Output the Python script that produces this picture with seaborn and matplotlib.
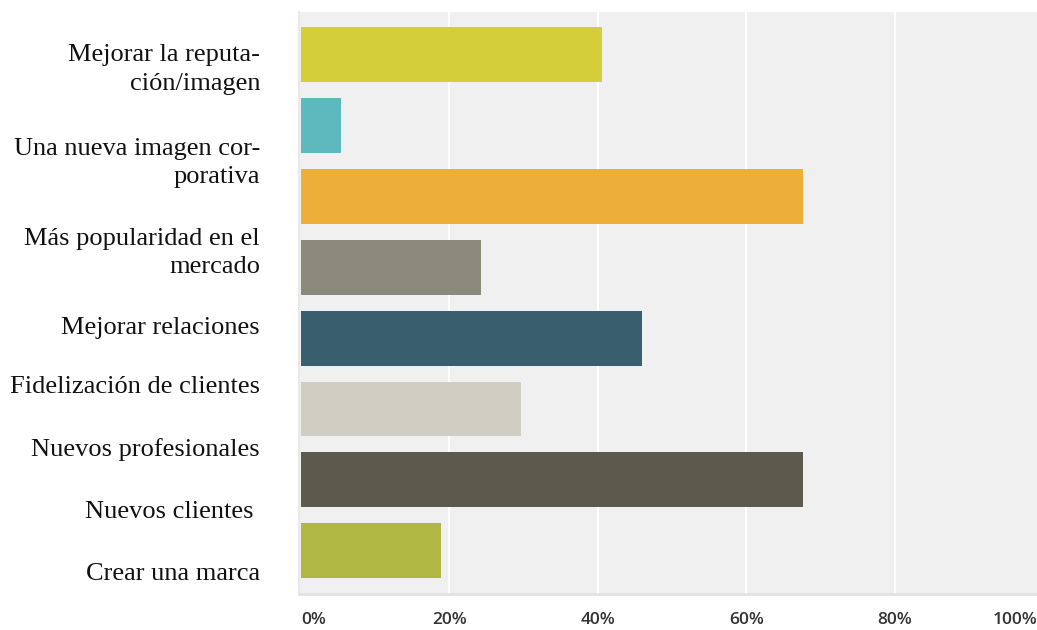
import matplotlib
matplotlib.use("Agg")
import matplotlib.pyplot as plt
import matplotlib.transforms as mtransforms
import seaborn as sns
import pandas as pd

# datos de la encuesta (porcentaje de respuestas)
categorias = [
    "Mejorar la reputa-\nción/imagen",
    "Una nueva imagen cor-\nporativa",
    "Más popularidad en el\nmercado",
    "Mejorar relaciones",
    "Fidelización de clientes",
    "Nuevos profesionales",
    "Nuevos clientes ",
    "Crear una marca",
]
porcentajes = [40.5, 5.4, 67.6, 24.3, 45.9, 29.7, 67.6, 18.9]
colores = ["#d4ce3a", "#5db9bd", "#eeaf3a", "#8b8a7b",
           "#395e6d", "#d0cdc2", "#5b5a4c", "#b0b843"]
ticks_x = [0, 20, 40, 60, 80, 100]
etiquetas_x = ["0%", "20%", "40%", "60%", "80%", "100%"]

# las etiquetas del eje y no quedan centradas en las barras
pos_etiquetas = [0.13, 1.45, 2.72, 3.82, 4.66, 5.54, 6.42, 7.29]

df = pd.DataFrame({"categoria": [str(i) for i in range(len(categorias))],
                   "pct": porcentajes})

sns.set_style("white")
fig = plt.figure(figsize=(10.37, 6.30), dpi=100)
W, H = 1037, 630
x0, x100 = 301, 1043
ax = fig.add_axes([299 / W, 1 - 594 / H, (x100 + 2 - 299) / W, (594 - 12) / H])
ax.set_facecolor("#f0f0f0")

sns.barplot(data=df, x="pct", y="categoria", hue="categoria", palette=colores,
            legend=False, width=0.775, orient="h", ax=ax,
            edgecolor="none", saturation=1)

ax.set_xlim(-2 / 7.42, 100 + 2 / 7.42)
ax.set_ylim(7.61, -0.6)
ax.set_xlabel("")
ax.set_ylabel("")

for g in ticks_x[1:-1]:
    ax.axvline(g, color="white", lw=1.5, zorder=0.5)

ax.set_xticks(ticks_x, etiquetas_x)
ax.set_yticks(pos_etiquetas, categorias)
ax.tick_params(axis="y", length=0, pad=28)
ax.tick_params(axis="x", length=0, pad=13)

for lab in ax.get_yticklabels():
    lab.set_fontfamily("Liberation Serif")
    lab.set_fontsize(19)
    lab.set_color("#111111")
    lab.set_linespacing(1.38)

xl = ax.get_xticklabels()
for lab in xl:
    lab.set_fontfamily(["Open Sans", "DejaVu Sans"])
    lab.set_fontweight("semibold")
    lab.set_fontsize(12.5)
    lab.set_color("#333333")
xl[0].set_horizontalalignment("left")
xl[-1].set_horizontalalignment("right")
xl[-1].set_transform(xl[-1].get_transform() +
                     mtransforms.ScaledTranslation(-6 / 100, 0, fig.dpi_scale_trans))

for s in ["top", "right"]:
    ax.spines[s].set_visible(False)
ax.spines["left"].set_color("#e6e6e6")
ax.spines["bottom"].set_color("#e2e2e2")
ax.spines["left"].set_linewidth(1.2)
ax.spines["bottom"].set_linewidth(2)

fig.savefig("out.png", dpi=100)
